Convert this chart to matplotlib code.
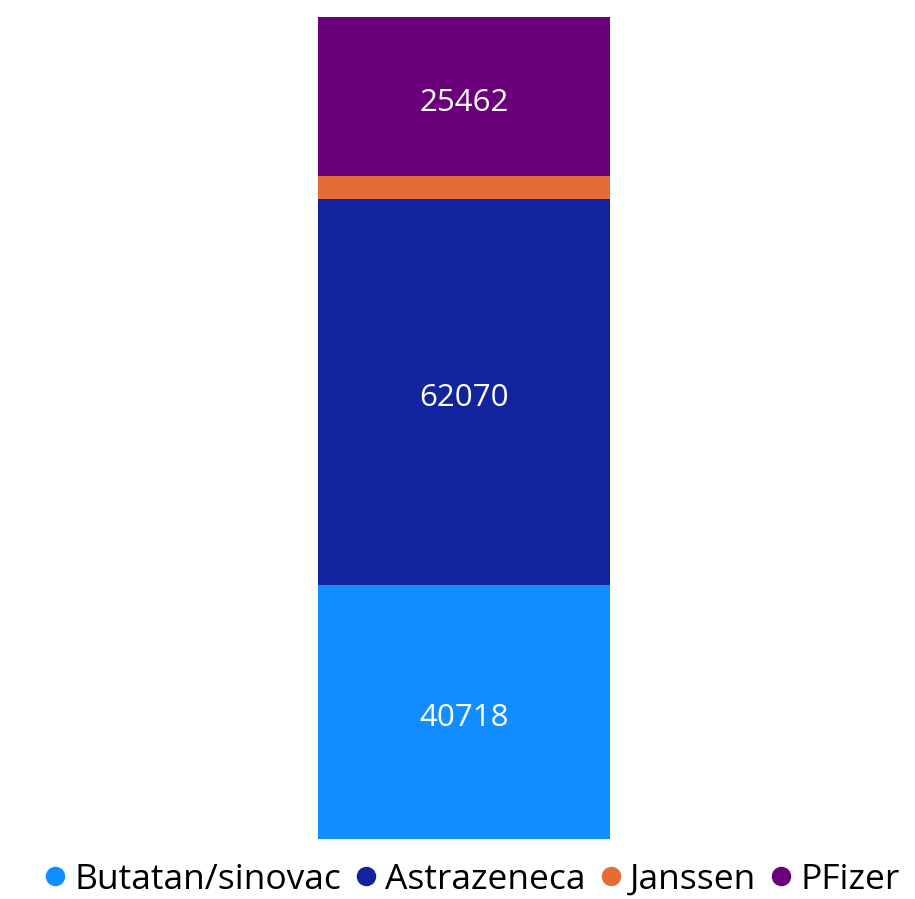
import numpy as np
import matplotlib.pyplot as plt
from matplotlib.lines import Line2D

plt.rcParams['font.family'] = ['Open Sans', 'DejaVu Sans']

names = ["Butatan/sinovac", "Astrazeneca", "Janssen", "PFizer"]
values = [40718, 62070, 3740, 25462]
colors = ["#118DFF", "#12239E", "#E66C37", "#6B007B"]
show_label = [True, True, False, True]

fig = plt.figure(figsize=(9.15, 8.99), dpi=100)
ax = fig.add_axes([318/915, (899-839)/899, 292/915, 822/899])

bottom = 0
for name, v, c, lab in zip(names, values, colors, show_label):
    ax.bar(0, v, width=1, bottom=bottom, color=c, label=name)
    if lab:
        ax.annotate(str(v), (0, bottom + v/2), xytext=(0, -2),
                    textcoords="offset points", color="white", fontsize=22.5,
                    ha="center", va="center_baseline")
    bottom += v

ax.set_xlim(-0.5, 0.5)
ax.set_ylim(0, bottom)
ax.axis("off")

handles = [Line2D([], [], marker="o", linestyle="", markersize=13,
                  markerfacecolor=c, markeredgecolor=c) for c in colors]
fig.legend(handles, names, loc="lower center", bbox_to_anchor=(0.515, -0.033),
           ncol=4, frameon=False, fontsize=25.5,
           handletextpad=0.2, columnspacing=0.35, handlelength=0.7)

fig.savefig("out.png", dpi=100)
